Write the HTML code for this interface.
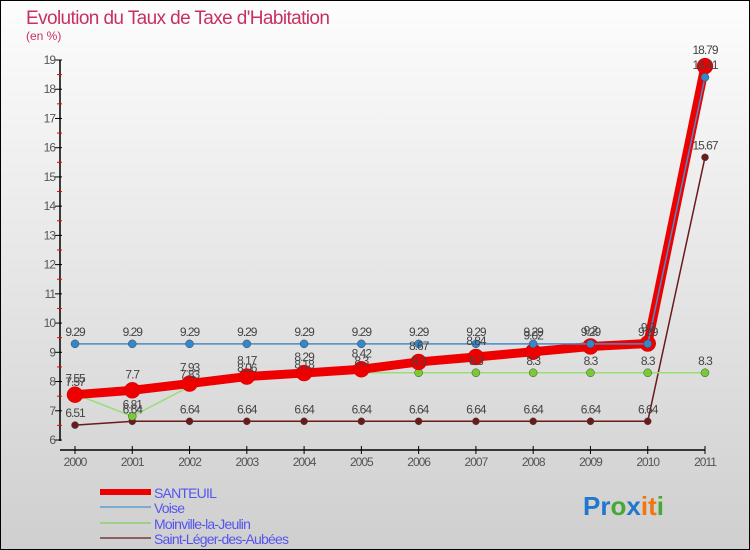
<!DOCTYPE html>
<html><head><meta charset="utf-8"><style>
body{margin:0;width:750px;height:550px;overflow:hidden}
svg{display:block;font-family:"Liberation Sans",sans-serif}
</style></head><body>
<svg id="chart" width="750" height="550" xmlns="http://www.w3.org/2000/svg">
<defs><linearGradient id="bg" x1="0" y1="0" x2="0" y2="1"><stop offset="0" stop-color="#fdfdfd"/><stop offset="1" stop-color="#cfcfcf"/></linearGradient></defs>
<rect x="0.5" y="0.5" width="749" height="549" fill="url(#bg)" stroke="#000"/>
<text x="26" y="24" font-size="19" fill="#c8305f" letter-spacing="-0.6">Evolution du Taux de Taxe d'Habitation</text>
<text x="26" y="40" font-size="12" fill="#c8305f">(en %)</text>
<g id="axes"></g><g id="series"></g><g id="labels"></g>
<g>
<line x1="100" y1="492" x2="151" y2="492" stroke="#e00" stroke-width="6"/>
<line x1="100" y1="507" x2="151" y2="507" stroke="#7aabd0" stroke-width="2"/>
<line x1="100" y1="523" x2="151" y2="523" stroke="#9fd08a" stroke-width="2"/>
<line x1="100" y1="538" x2="151" y2="538" stroke="#8a6060" stroke-width="2"/>
<g font-size="14" fill="#5555ee" letter-spacing="-0.8">
<text x="154" y="498">SANTEUIL</text>
<text x="154" y="513">Voise</text>
<text x="154" y="529">Moinville-la-Jeulin</text>
<text x="154" y="544">Saint-Léger-des-Aubées</text>
</g></g>
<text x="583" y="515" font-size="26" font-weight="bold"><tspan fill="#2277cc">Pr</tspan><tspan fill="#44aa33">o</tspan><tspan fill="#2277cc">x</tspan><tspan fill="#ee7711">i</tspan><tspan fill="#ee7711">t</tspan><tspan fill="#44aa33">i</tspan></text>
</svg>
<script>
const years=[2000,2001,2002,2003,2004,2005,2006,2007,2008,2009,2010,2011];
const santeuil=[7.55,7.7,7.93,8.17,8.29,8.42,8.67,8.84,9.02,9.2,9.3,18.79];
const voise=[9.29,9.29,9.29,9.29,9.29,9.29,9.29,9.29,9.29,9.29,9.29,18.41];
const moinville=[7.57,6.81,7.83,8.06,8.18,8.3,8.3,8.3,8.3,8.3,8.3,8.3];
const saintLeger=[6.51,6.64,6.64,6.64,6.64,6.64,6.64,6.64,6.64,6.64,6.64,15.67];
const yTicks=[6,7,8,9,10,11,12,13,14,15,16,17,18,19];
const NS="http://www.w3.org/2000/svg";
const xs=i=>75+i*(630/11);
const ys=v=>440-(v-6)*(380/13);
function mk(tag,attrs,parent){const e=document.createElementNS(NS,tag);for(const k in attrs)e.setAttribute(k,attrs[k]);parent.appendChild(e);return e;}
const ax=document.getElementById('axes');
const yAxis=mk('line',{x1:60,y1:60,x2:60,y2:441,stroke:'#000','stroke-width':1.5},ax);


const xAxis=mk('line',{x1:60,y1:450,x2:705,y2:450,stroke:'#000','stroke-width':1.5},ax);


yTicks.forEach(t=>{
 mk('line',{x1:55,y1:ys(t),x2:62,y2:ys(t),stroke:'#000'},ax);
 if(t<19)mk('line',{x1:57,y1:ys(t+0.5),x2:62,y2:ys(t+0.5),stroke:'#e00'},ax);
 const l=mk('text',{x:55,y:ys(t)+4,'font-size':12,fill:'#555','text-anchor':'end','letter-spacing':'-1'},ax);
 l.textContent=t;
 
 
});
years.forEach((y,i)=>{
 mk('line',{x1:xs(i),y1:446,x2:xs(i),y2:454,stroke:'#000'},ax);
 const l=mk('text',{x:xs(i),y:466,'font-size':12,fill:'#555','text-anchor':'middle','letter-spacing':'-1'},ax);
 l.textContent=y;
 
 
});
const sg=document.getElementById('series'),lg=document.getElementById('labels');
const defs=[
 {d:saintLeger,c:'#6b1a1a',w:1.5,r:3.5,n:'saint-leger'},
 {d:moinville,c:'#99dd77',w:1.5,r:4,n:'moinville',dot:'#77cc33'},
 {d:santeuil,c:'#ee0000',w:9,r:8,n:'santeuil'},
 {d:voise,c:'#4a8ac8',w:1.5,r:4,n:'voise',dot:'#3388cc'}
];
defs.forEach(s=>{
 const p=mk('polyline',{points:s.d.map((v,i)=>xs(i)+','+ys(v)).join(' '),fill:'none',stroke:s.c,'stroke-width':s.w,'stroke-linejoin':'round'},sg);
 
 
 s.d.forEach((v,i)=>{
  const c=mk('circle',{cx:xs(i),cy:ys(v),r:s.r,fill:s.dot||s.c,stroke:s.n==='santeuil'?'#cc0000':'#444','stroke-width':0.5},sg);
  
  
  const t=mk('text',{x:xs(i),y:ys(v)-(s.n==='santeuil'?12:8),'font-size':12,fill:'#444','text-anchor':'middle','letter-spacing':'-1'},lg);
  t.textContent=v;
  
  
 });
});
</script>
</body></html>
